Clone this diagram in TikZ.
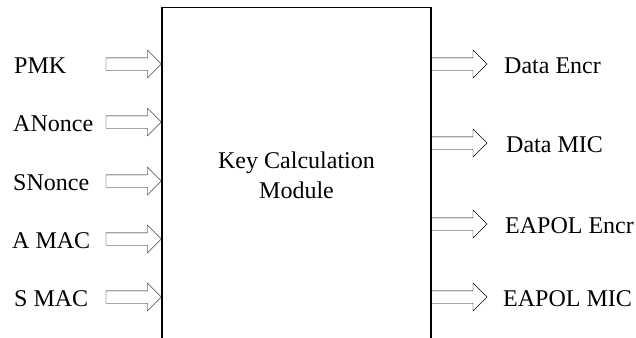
\documentclass[tikz,border=0pt]{standalone}
\usepackage{fontspec}
\setmainfont{Liberation Serif}
\newfontfamily\timesfont{Liberation Serif}
\usetikzlibrary{calc,positioning}

\tikzset{
  lbl/.style={anchor=base west, inner sep=0pt, font=\timesfont\fontsize{24.1pt}{30.1pt}\selectfont},
  fatarrow/.style={draw, line width=0.9bp, to path={
      let \p1=(\tikztostart), \p2=(\tikztotarget) in
      (\x1,\y1+6.2bp) -- (\x2-14bp,\y1+6.2bp) -- (\x2-14bp,\y1+14bp) -- (\x2,\y1)
      -- (\x2-14bp,\y1-14bp) -- (\x2-14bp,\y1-6.2bp) -- (\x1,\y1-6.2bp) -- cycle}}
}

\begin{document}
\begin{tikzpicture}[x=1bp, y=-1bp]
  \useasboundingbox (0,0) rectangle (636,337);
  \clip (0,0) rectangle (636,337);

  % the module, open at the bottom of the page
  \node[draw, line width=1.1bp, minimum width=269bp, minimum height=340bp,
        anchor=north, inner sep=0pt] (km) at (296.5,7) {};
  \node[lbl, anchor=center, align=center] (kmtext) at (296.5,175) {Key Calculation\\Module};

  % inputs
  \node[lbl] (pmk)    at (14,73)  {PMK};
  \node[lbl] (anonce) at (13,131) {ANonce};
  \node[lbl] (snonce) at (13,190) {SNonce};
  \node[lbl] (amac)   at (12,248) {A MAC};
  \node[lbl] (smac)   at (14,306) {S MAC};

  \coordinate (pmk-t)    at (106,64);
  \coordinate (anonce-t) at (106,122);
  \coordinate (snonce-t) at (106,181);
  \coordinate (amac-t)   at (106,239);
  \coordinate (smac-t)   at (106,297);

  \draw (pmk-t)    to[fatarrow] (km.west |- pmk-t);
  \draw (anonce-t) to[fatarrow] (km.west |- anonce-t);
  \draw (snonce-t) to[fatarrow] (km.west |- snonce-t);
  \draw (amac-t)   to[fatarrow] (km.west |- amac-t);
  \draw (smac-t)   to[fatarrow] (km.west |- smac-t);

  % outputs
  \node[lbl] (dencr)  at (504,73)  {Data Encr};
  \node[lbl] (dmic)   at (506,152) {Data MIC};
  \node[lbl] (eencr)  at (505,233) {EAPOL Encr};
  \node[lbl] (emic)   at (503,306) {EAPOL MIC};

  \coordinate (dencr-h) at (487,64);
  \coordinate (dmic-h)  at (487,143);
  \coordinate (eencr-h) at (487,224);
  \coordinate (emic-h)  at (487,297);

  \draw (km.east |- dencr-h) to[fatarrow] (dencr-h);
  \draw (km.east |- dmic-h)  to[fatarrow] (dmic-h);
  \draw (km.east |- eencr-h) to[fatarrow] (eencr-h);
  \draw (km.east |- emic-h)  to[fatarrow] (emic-h);
\end{tikzpicture}
\end{document}
